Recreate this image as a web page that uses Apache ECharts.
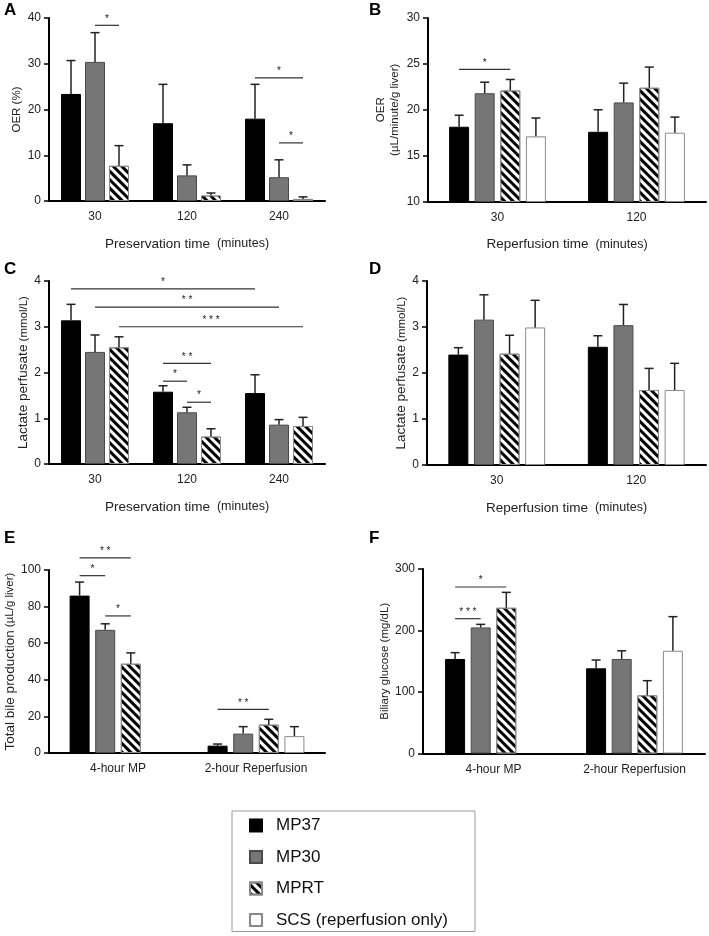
<!DOCTYPE html>
<html>
<head>
<meta charset="utf-8">
<script src="https://cdn.jsdelivr.net/npm/echarts@6/dist/echarts.min.js"></script>
<style>
html,body{margin:0;padding:0;background:#fff;}
#chart{width:709px;height:936px;}
</style>
</head>
<body>
<div id="chart"></div>
<script>
// ---------------- DATA ----------------
const seriesNames = ['MP37', 'MP30', 'MPRT', 'SCS (reperfusion only)'];

// Panel A: OER (%), preservation
const catA = ['30', '120', '240'];
const aMP37 = [23.4, 17.0, 18.0];   const aMP37Sem = [7.3, 8.5, 7.5];
const aMP30 = [30.4, 5.6, 5.2];     const aMP30Sem = [6.4, 2.3, 3.8];
const aMPRT = [7.7, 1.2, 0.45];     const aMPRTSem = [4.4, 0.55, 0.45];
const aSig = [[0, 1, 0, 2, 38.4, 1], [2, 0, 2, 2, 26.9, 1], [2, 1, 2, 2, 12.7, 1]];

// Panel B: OER (uL/min/g liver), reperfusion
const catB = ['30', '120'];
const bMP37 = [18.15, 17.6];  const bMP37Sem = [1.25, 2.4];
const bMP30 = [21.8, 20.8];   const bMP30Sem = [1.2, 2.1];
const bMPRT = [22.1, 22.4];   const bMPRTSem = [1.2, 2.25];
const bSCS  = [17.1, 17.5];   const bSCSSem  = [2.0, 1.7];
const bSig = [[0, 0, 0, 2, 24.4, 1]];

// Panel C: lactate, preservation
const catC = ['30', '120', '240'];
const cMP37 = [3.14, 1.58, 1.55];  const cMP37Sem = [0.35, 0.13, 0.40];
const cMP30 = [2.45, 1.13, 0.86];  const cMP30Sem = [0.37, 0.11, 0.11];
const cMPRT = [2.55, 0.60, 0.83];  const cMPRTSem = [0.23, 0.17, 0.19];
const cSig = [[0, 0, 2, 0, 3.83, 1], [0, 1, 2, 1, 3.43, 2], [0, 2, 2, 2, 3.0, 3],
              [1, 0, 1, 2, 2.2, 2], [1, 0, 1, 1, 1.81, 1], [1, 1, 1, 2, 1.35, 1]];

// Panel D: lactate, reperfusion
const catD = ['30', '120'];
const dMP37 = [2.40, 2.57];  const dMP37Sem = [0.15, 0.24];
const dMP30 = [3.16, 3.04];  const dMP30Sem = [0.54, 0.45];
const dMPRT = [2.42, 1.63];  const dMPRTSem = [0.40, 0.47];
const dSCS  = [2.99, 1.63];  const dSCSSem  = [0.59, 0.58];
const dSig = [];

// Panel E: total bile production
const catE = ['4-hour MP', '2-hour Reperfusion'];
const eMP37 = [86.0, 4.0];   const eMP37Sem = [7.4, 0.9];
const eMP30 = [67.3, 10.6];  const eMP30Sem = [3.3, 3.8];
const eMPRT = [48.8, 15.5];  const eMPRTSem = [5.9, 2.9];
const eSCS  = [null, 9.2];   const eSCSSem  = [null, 5.2];
const eSig = [[0, 0, 0, 2, 106.6, 2], [0, 0, 0, 1, 96.9, 1], [0, 1, 0, 2, 74.9, 1], [1, 0, 1, 2, 23.8, 2]];

// Panel F: biliary glucose
const catF = ['4-hour MP', '2-hour Reperfusion'];
const fMP37 = [153.7, 138.5];  const fMP37Sem = [10.3, 13.5];
const fMP30 = [205, 153.7];    const fMP30Sem = [5, 13.3];
const fMPRT = [237, 94.6];     const fMPRTSem = [25, 23.8];
const fSCS  = [null, 167];     const fSCSSem  = [null, 55.5];
const fSig = [[0, 0, 0, 2, 270.7, 1], [0, 0, 0, 1, 219.2, 3]];

// ---------------- STYLE / LAYOUT ----------------
const FONT = 'Liberation Sans';
const BW = 20;
const GAP = { 3: 4, 4: 5.6 };
const styles = [
  { color: '#000000', borderColor: '#000000', borderWidth: 1 },
  { color: '#767676', borderColor: '#4a4a4a', borderWidth: 1 },
  { color: '#ffffff', borderColor: '#8a8a8a', borderWidth: 1,
    decal: { symbol: 'rect', color: '#000000', dashArrayX: [1, 0], dashArrayY: [2.7, 2.5], rotation: Math.PI / 4 } },
  { color: '#ffffff', borderColor: '#8a8a8a', borderWidth: 1 }
];

function off(si, n) { return (si - (n - 1) / 2) * (BW + GAP[n]); }

const panels = [
  { cats: catA, vals: [aMP37, aMP30, aMPRT], sems: [aMP37Sem, aMP30Sem, aMPRTSem], sig: aSig,
    grid: { left: 49, top: 18, width: 276, height: 183 }, min: 0, max: 40, interval: 10,
    yName: 'OER (%)', yNameGap: 26, xName: '{b|Preservation time}  {a|(minutes)}', letter: 'A' },
  { cats: catB, vals: [bMP37, bMP30, bMPRT, bSCS], sems: [bMP37Sem, bMP30Sem, bMPRTSem, bSCSSem], sig: bSig,
    grid: { left: 428, top: 18, width: 278, height: 183.5 }, min: 10, max: 30, interval: 5,
    yName: '{a|OER}\n{a|(µL/minute/g liver)}', yNameGap: 26, xName: '{b|Reperfusion time}  {a|(minutes)}', letter: 'B' },
  { cats: catC, vals: [cMP37, cMP30, cMPRT], sems: [cMP37Sem, cMP30Sem, cMPRTSem], sig: cSig,
    grid: { left: 49, top: 281, width: 276, height: 183 }, min: 0, max: 4, interval: 1,
    yName: '{b|Lactate perfusate} {a|(mmol/L)}', yNameGap: 18, xName: '{b|Preservation time}  {a|(minutes)}', letter: 'C' },
  { cats: catD, vals: [dMP37, dMP30, dMPRT, dSCS], sems: [dMP37Sem, dMP30Sem, dMPRTSem, dSCSSem], sig: dSig,
    grid: { left: 427, top: 281, width: 279, height: 184 }, min: 0, max: 4, interval: 1,
    yName: '{b|Lactate perfusate} {a|(mmol/L)}', yNameGap: 18, xName: '{b|Reperfusion time}  {a|(minutes)}', letter: 'D' },
  { cats: catE, vals: [eMP37, eMP30, eMPRT, eSCS], sems: [eMP37Sem, eMP30Sem, eMPRTSem, eSCSSem], sig: eSig,
    grid: { left: 49, top: 570, width: 276, height: 183 }, min: 0, max: 100, interval: 20,
    yName: '{b|Total bile production} {a|(µL/g liver)}', yNameGap: 32, xName: '', letter: 'E' },
  { cats: catF, vals: [fMP37, fMP30, fMPRT, fSCS], sems: [fMP37Sem, fMP30Sem, fMPRTSem, fSCSSem], sig: fSig,
    grid: { left: 423, top: 569, width: 282, height: 184.5 }, min: 0, max: 300, interval: 100,
    yName: '{a|Biliary glucose (mg/dL)}', yNameGap: 30, xName: '', letter: 'F' }
];

const grids = [], xAxes = [], yAxes = [], series = [], graphics = [];

panels.forEach((p, pi) => {
  const n = p.vals.length;
  grids.push(Object.assign({ containLabel: false }, p.grid));
  xAxes.push({
    type: 'category', gridIndex: pi, data: p.cats,
    axisLine: { lineStyle: { color: '#000', width: 2 } },
    axisTick: { alignWithLabel: true, length: 5, lineStyle: { color: '#000', width: 1.5 } },
    axisLabel: { color: '#222', fontFamily: FONT, fontSize: 12, margin: 10 },
    name: p.xName, nameLocation: 'middle', nameGap: 36,
    nameTextStyle: { color: '#222', fontFamily: FONT, fontSize: 12.5,
      rich: {
        a: { fontFamily: FONT, fontSize: 12.5, color: '#222' },
        b: { fontFamily: FONT, fontSize: 13.5, color: '#222' }
      } }
  });
  yAxes.push({
    type: 'value', gridIndex: pi, min: p.min, max: p.max, interval: p.interval,
    splitLine: { show: false },
    axisLine: { show: true, lineStyle: { color: '#000', width: 2 } },
    axisTick: { show: true, length: 5, lineStyle: { color: '#000', width: 1.5 } },
    axisLabel: { color: '#222', fontFamily: FONT, fontSize: 12, margin: 8 },
    name: p.yName, nameLocation: 'middle', nameGap: p.yNameGap, nameRotate: 90,
    nameTextStyle: {
      color: '#222', fontFamily: FONT, fontSize: 11.5,
      rich: {
        a: { fontFamily: FONT, fontSize: 11.5, color: '#222', lineHeight: 14 },
        b: { fontFamily: FONT, fontSize: 13.5, color: '#222' }
      }
    }
  });
  // bars
  p.vals.forEach((vals, si) => {
    series.push({
      type: 'bar', name: seriesNames[si], xAxisIndex: pi, yAxisIndex: pi,
      data: vals.map(v => (v === null ? '-' : v)),
      barWidth: BW, barGap: (GAP[n] / BW * 100) + '%',
      itemStyle: styles[si], emphasis: { disabled: true }, z: 2
    });
  });
  // error bars
  const errData = [];
  p.vals.forEach((vals, si) => {
    vals.forEach((v, ci) => {
      if (v !== null) errData.push([ci, si, v, v + p.sems[si][ci]]);
    });
  });
  series.push({
    type: 'custom', xAxisIndex: pi, yAxisIndex: pi, data: errData, z: 3,
    encode: { x: 0, y: [2, 3] }, silent: true,
    renderItem: (params, api) => {
      const c = api.value(0), si = api.value(1);
      const p0 = api.coord([c, api.value(2)]);
      const p1 = api.coord([c, api.value(3)]);
      const x = p0[0] + off(si, n);
      const st = { stroke: '#222', lineWidth: 1.5 };
      return { type: 'group', children: [
        { type: 'line', shape: { x1: x, y1: p0[1], x2: x, y2: p1[1] }, style: st },
        { type: 'line', shape: { x1: x - 4.5, y1: p1[1], x2: x + 4.5, y2: p1[1] }, style: st }
      ] };
    }
  });
  // significance brackets
  if (p.sig.length) {
    series.push({
      type: 'custom', xAxisIndex: pi, yAxisIndex: pi, data: p.sig, z: 4, clip: false,
      encode: { x: 0, y: 4 }, silent: true,
      renderItem: (params, api) => {
        const c1 = api.value(0), s1 = api.value(1), c2 = api.value(2), s2 = api.value(3);
        const yv = api.value(4), k = api.value(5);
        const a = api.coord([c1, yv]), b = api.coord([c2, yv]);
        const x1 = a[0] + off(s1, n), x2 = b[0] + off(s2, n);
        return { type: 'group', children: [
          { type: 'line', shape: { x1: x1, y1: a[1], x2: x2, y2: a[1] }, style: { stroke: '#333', lineWidth: 1.2 } },
          { type: 'text', style: { x: (x1 + x2) / 2, y: a[1] - 1.5, text: Array(k).fill('*').join(' '),
            fill: '#222', font: '10px ' + FONT, align: 'center', verticalAlign: 'bottom' } }
        ] };
      }
    });
  }
});

const letterPos = [[4, 2], [369, 2], [4, 261], [369, 261], [4, 530], [369, 530]];
panels.forEach((p, i) => {
  graphics.push({ type: 'text', left: letterPos[i][0], top: letterPos[i][1],
    style: { text: p.letter, font: 'bold 17px ' + FONT, fill: '#000' } });
});

const chart = echarts.init(document.getElementById('chart'), null, { renderer: 'canvas' });
chart.setOption({
  animation: false,
  backgroundColor: '#fff',
  grid: grids, xAxis: xAxes, yAxis: yAxes, series: series, graphic: graphics,
  legend: {
    data: seriesNames, orient: 'vertical', left: 232, top: 811,
    padding: [6, 27, 3, 17], itemGap: 14.5, itemWidth: 12, itemHeight: 12,
    borderColor: '#9a9a9a', borderWidth: 1, icon: 'rect', selectedMode: false,
    textStyle: { fontFamily: FONT, fontSize: 17, color: '#111', lineHeight: 17, padding: [0, 0, 0, 9] }
  }
});
</script>
</body>
</html>
